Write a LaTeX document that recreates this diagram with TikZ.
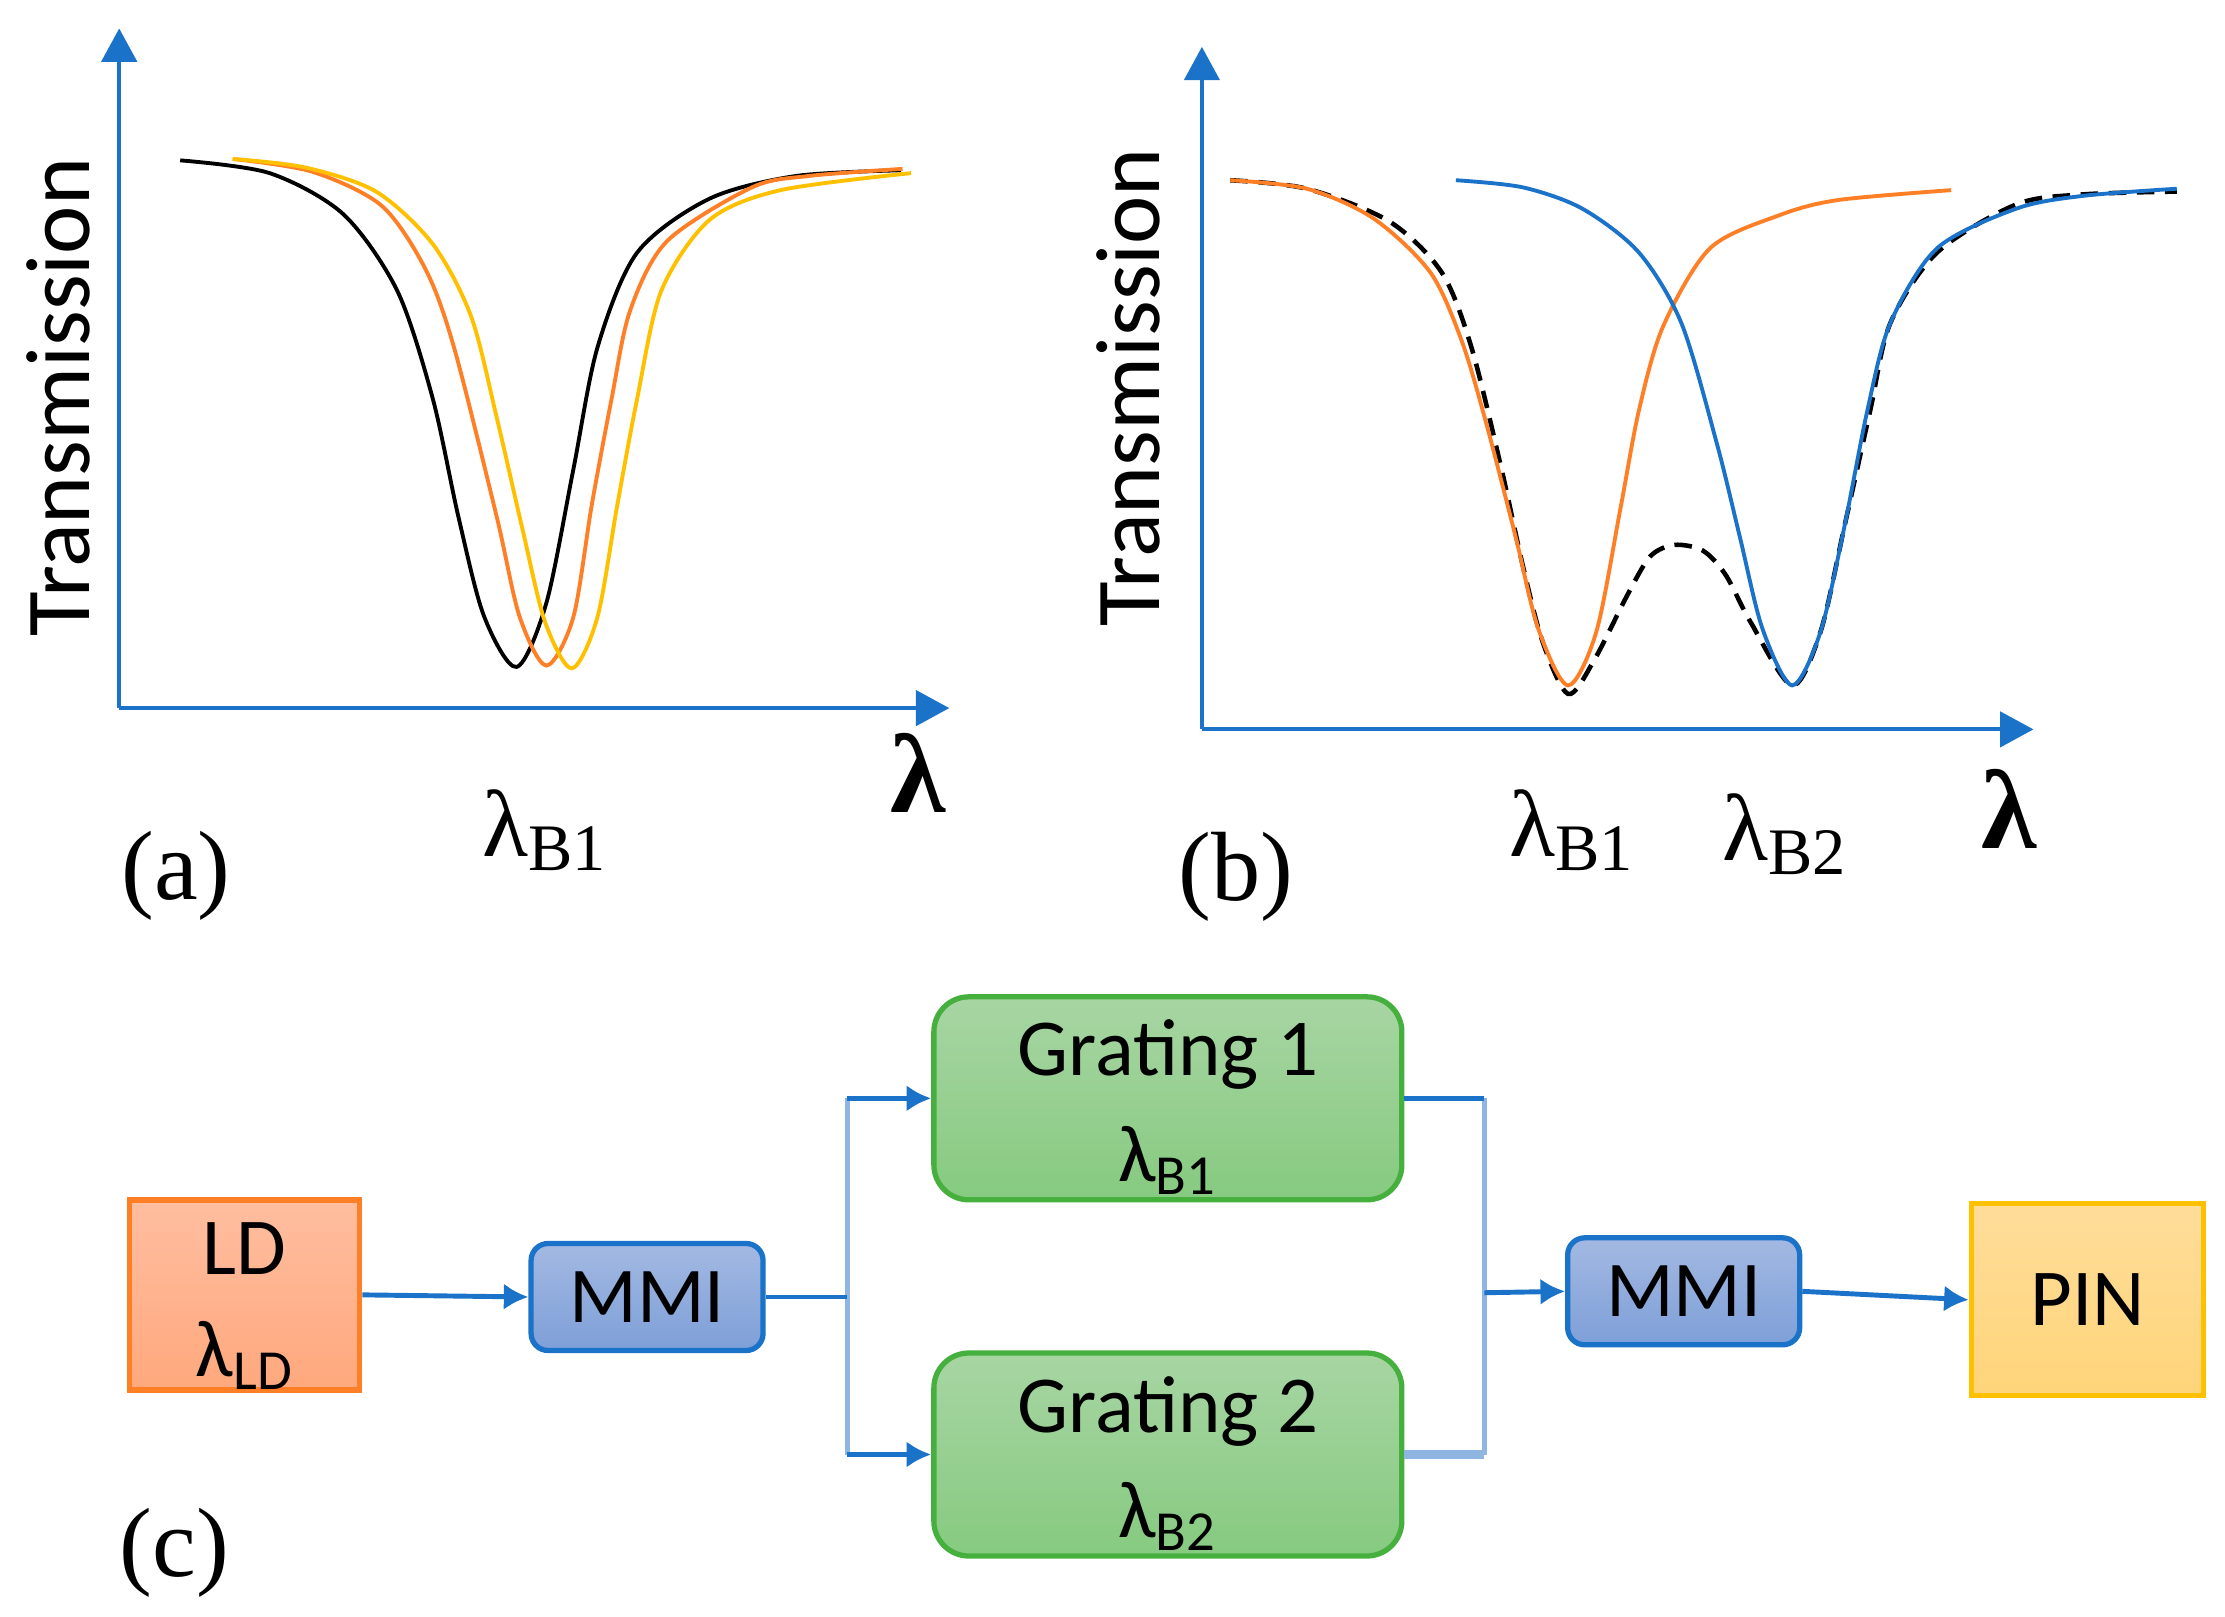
\documentclass[tikz,border=0pt]{standalone}
\usepackage{fontspec}
\setmainfont{Liberation Serif}
\newfontfamily\boxfont{Carlito}
\usetikzlibrary{arrows.meta}
\definecolor{axisblue}{HTML}{1A73C9}
\definecolor{softblue}{HTML}{8FB5E3}
\definecolor{curveorange}{HTML}{FF7F27}
\definecolor{curveyellow}{HTML}{FFC000}
\definecolor{boxgreen}{HTML}{45B03E}
\tikzset{
  axis/.style={draw=axisblue,line width=1.2pt,-{Triangle[length=9.5pt,width=10pt]}},
  curve/.style={line width=1.1pt},
  ylab/.style={font=\boxfont\fontsize{26}{30}\selectfont,rotate=90,inner sep=0pt},
  xlab/.style={font=\fontsize{32}{36}\selectfont\bfseries,inner sep=0pt},
  peak/.style={font=\fontsize{27}{32}\selectfont,inner sep=0pt},
  panel/.style={font=\fontsize{28}{32}\selectfont,inner sep=0pt},
  srcbox/.style={draw=curveorange,line width=1.5pt,
    top color={rgb,255:red,255;green,190;blue,160},bottom color={rgb,255:red,255;green,168;blue,125},
    minimum width=2.3cm,minimum height=1.9cm,inner sep=0pt,align=center,font=\boxfont\fontsize{23}{29}\selectfont},
  mmibox/.style={draw=axisblue,line width=1.5pt,rounded corners=0.17cm,
    top color={rgb,255:red,163;green,185;blue,226},bottom color={rgb,255:red,126;green,159;blue,216},
    minimum width=2.32cm,minimum height=1.07cm,inner sep=0pt,font=\boxfont\fontsize{22.5}{28}\selectfont},
  gratbox/.style={draw=boxgreen,line width=1.5pt,rounded corners=0.35cm,
    top color={rgb,255:red,168;green,213;blue,163},bottom color={rgb,255:red,134;green,202;blue,128},
    minimum width=4.68cm,minimum height=2.03cm,inner sep=0pt,align=center,font=\boxfont\fontsize{23}{30}\selectfont},
  pinbox/.style={draw=curveyellow,line width=1.5pt,
    top color={rgb,255:red,255;green,221;blue,154},bottom color={rgb,255:red,255;green,213;blue,122},
    minimum width=2.32cm,minimum height=1.92cm,inner sep=0pt,font=\boxfont\fontsize{23}{28}\selectfont},
  link/.style={draw=axisblue,line width=1.4pt},
  softlink/.style={draw=softblue,line width=1.4pt}
}
\newcommand{\lamsub}[1]{λ\textsubscript{#1}}
\newcommand{\boxstrut}{\rule{0pt}{21pt}}
\begin{document}
\begin{tikzpicture}[x=0.01419cm,y=-0.01419cm]
  \useasboundingbox (0,0) rectangle (1568,1139);
  \coordinate (aorigin) at (84,499);
  \coordinate (atop) at (84,20);
  \coordinate (aright) at (669,499);
  \coordinate (borigin) at (847,514);
  \coordinate (btop) at (847,33);
  \coordinate (bright) at (1433,514);
  \draw[axis] (aorigin) to (atop);
  \draw[axis] (aorigin) to (aright);
  \draw[axis] (borigin) to (btop);
  \draw[axis] (borigin) to (bright);
  \draw[curve,black] plot[smooth] coordinates {(127,113) (190,122) (242,151) (280,205) (305,281) (323,364) (341,434) (364,470) (385,425) (404,331) (421,245) (449,178) (500,140) (561,124) (635,120)};
  \draw[curve,curveorange] plot[smooth] coordinates {(164,112) (220,121) (269,145) (300,190) (320,245) (350,364) (366,434) (385,469) (404,435) (417,356) (431,281) (444,219) (470,170) (530,132) (570,124) (636,119)};
  \draw[curve,curveyellow] plot[smooth] coordinates {(164,112) (215,118) (265,135) (305,172) (332,223) (350,294) (368,372) (384,438) (403,471) (421,435) (435,356) (449,281) (466,205) (500,155) (550,134) (642,122)};
  \draw[curve,line width=1.3pt,black,dash pattern=on 5pt off 3pt] plot[smooth] coordinates {(867,127) (921,133) (979,156) (1016,192) (1037,245) (1058,330) (1073,398) (1087,452) (1105,489) (1123,466) (1147,419) (1163,392) (1180,384) (1200,388) (1216,405) (1234,439) (1263,483) (1283,445) (1300,370) (1318,289) (1332,228) (1365,178) (1421,144) (1468,137) (1534,135)};
  \draw[curve,curveorange] plot[smooth] coordinates {(867,127) (921,133) (968,154) (1008,192) (1030,240) (1047,297) (1068,378) (1084,443) (1105,483) (1125,445) (1142,358) (1155,289) (1172,230) (1205,175) (1253,152) (1295,141) (1375,134)};
  \draw[curve,axisblue] plot[smooth] coordinates {(1026,127) (1073,132) (1115,147) (1155,178) (1185,228) (1210,313) (1226,378) (1242,443) (1263,483) (1283,445) (1300,370) (1316,289) (1332,228) (1365,175) (1421,147) (1468,138) (1534,133)};
  \draw
    (41,280) node[ylab] (ylaba){Transmission}
    (795,273) node[ylab] (ylabb){Transmission}
    (647,545) node[xlab] (xlaba){λ}
    (1416,570) node[xlab] (xlabb){λ}
    (384,585) node[peak] (peaka){\lamsub{B1}}
    (1108,585) node[peak] (peakb){\lamsub{B1}}
    (1258,588) node[peak] (peakc){\lamsub{B2}}
    (124,617) node[panel] (tagb){(a)}
    (871,618) node[panel] (tagc){(b)}
    (123,1094) node[panel] (tagd){(c)};
  \draw
    (172.5,912.5) node[srcbox] (ld){\boxstrut LD\\\lamsub{LD}}
    (456,914) node[mmibox] (mmil){MMI}
    (823,774) node[gratbox] (grato){\boxstrut Grating 1\\\lamsub{B1}}
    (823,1025) node[gratbox] (gratt){\boxstrut Grating 2\\\lamsub{B2}}
    (1186.5,910) node[mmibox] (mmir){MMI}
    (1471,916) node[pinbox] (pin){PIN};
  \coordinate (split) at (597,914);
  \coordinate (merge) at (1046,911);
  \coordinate (splittop) at (split |- grato.west);
  \coordinate (splitbot) at (split |- gratt.west);
  \coordinate (mergetop) at (merge |- grato.east);
  \coordinate (mergebot) at (merge |- gratt.east);
  \begin{scope}[softlink]
    \draw (splittop) to (splitbot);
    \draw (mergetop) to (mergebot);
    \draw[line width=2.4pt] (gratt.east) to (mergebot);
  \end{scope}
  \begin{scope}[link]
    \draw (mmil.east) to (split);
    \draw (grato.east) to (mergetop);
  \end{scope}
  \begin{scope}[link,-{Latex[length=7pt,width=7.5pt]}]
    \draw (ld.east) to (mmil.west);
    \draw (splittop) to (grato.west);
    \draw (splitbot) to (gratt.west);
    \draw (merge) to (mmir.west);
    \draw (mmir.east) to (pin.west);
  \end{scope}
\end{tikzpicture}
\end{document}
